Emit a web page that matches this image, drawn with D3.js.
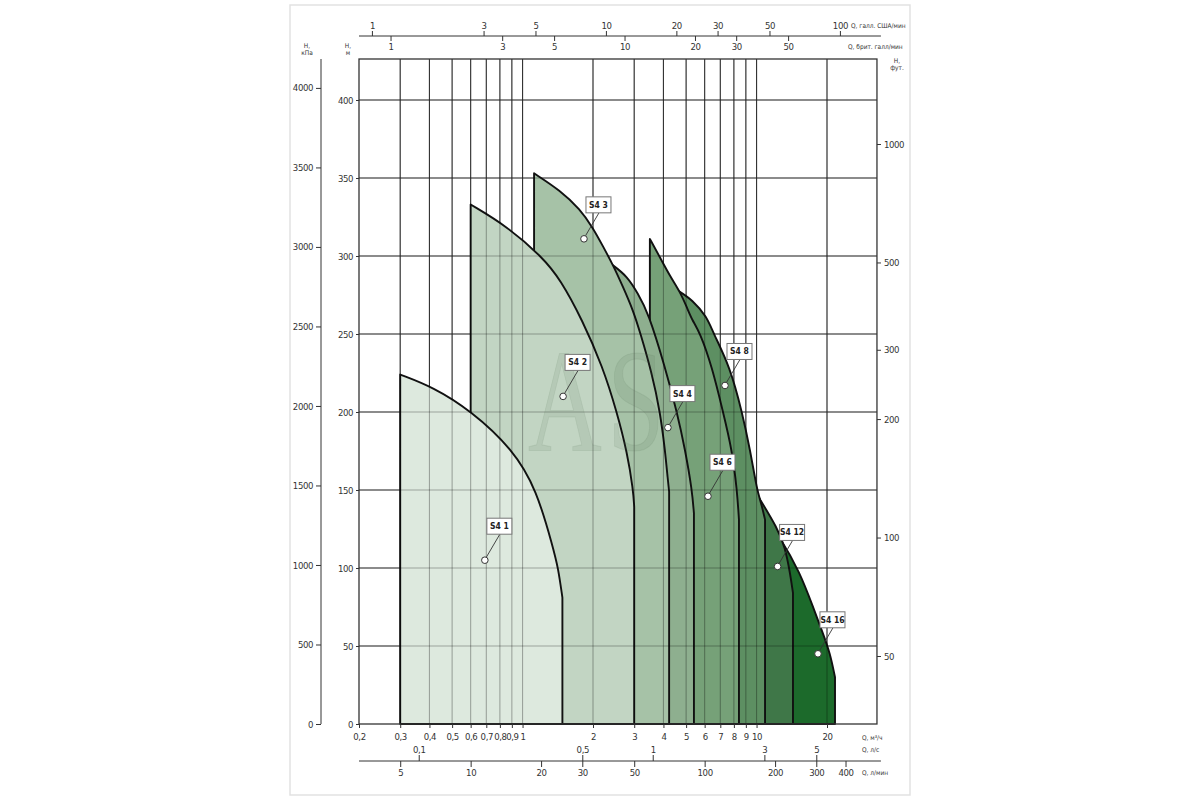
<!DOCTYPE html>
<meta charset="utf-8">
<script src="https://d3js.org/d3.v7.min.js"></script>
<style>
  body { margin: 0; background: #fff; }
  text { font-family: "Liberation Sans Narrow", "DejaVu Sans Condensed", "Liberation Sans", sans-serif; fill: #333; }
</style>
<div id="chart"></div>
<script>
  // pump series, drawn from the picture
  const pumps = ["S4 1", "S4 2", "S4 3", "S4 4", "S4 6", "S4 8", "S4 12", "S4 16"];
  const pumpColors = ["#dde9de", "#c2d5c3", "#a6c2a7", "#8eaf8f", "#76a178", "#5d8f62", "#3f7748", "#1c6a2b"];

  // Q (m3/h) and H (m) along the top of each field
  const curveQ = [
    [0.3, 0.414, 0.6, 0.91, 1.15, 1.35, 1.42, 1.48],
    [0.6, 0.86, 1.22, 1.45, 1.8, 2.2, 2.53, 2.8, 2.97, 3.0],
    [1.12, 1.45, 1.76, 2.0, 2.21, 2.44, 2.69, 2.97, 3.18, 3.57, 3.87, 4.06, 4.18, 4.23],
    [2.14, 2.44, 2.8, 3.11, 3.44, 4.06, 4.57, 4.95, 5.3, 5.4],
    [3.5, 3.87, 4.27, 4.71, 5.04, 5.3, 5.73, 6.45, 7.19, 7.85, 8.25, 8.41],
    [4.06, 4.71, 5.3, 6.14, 6.51, 7.7, 8.67, 9.38, 10.04, 10.45, 10.87],
    [6.98, 8.93, 10.34, 12.23, 13.23, 13.9, 14.31],
    [9.38, 10.87, 12.59, 15.34, 17.43, 19.23, 20.6, 21.64]
  ];
  const curveH = [
    [224, 216, 201, 176, 150, 113, 100, 81],
    [333, 319, 299, 285, 259, 229, 200, 174, 150, 139],
    [353, 342, 330, 318, 306, 294, 280, 265, 251, 225, 200, 176, 156, 149],
    [300, 294, 287, 276, 264, 229, 200, 176, 150, 135],
    [311, 299, 287, 277, 267, 259, 251, 229, 200, 176, 150, 131],
    [283, 277, 272, 261, 251, 229, 200, 176, 150, 142, 131],
    [182, 160, 144, 126, 113.5, 97, 84],
    [140, 132, 120, 97, 75, 58, 45.5, 30]
  ];

  // label markers
  const markerQ = [0.69, 1.49, 1.83, 4.18, 6.2, 7.33, 12.3, 18.3];
  const markerH = [105, 210, 311, 190, 146, 217, 101, 45];

  // tick lists
  const qTicks = [0.2, 0.3, 0.4, 0.5, 0.6, 0.7, 0.8, 0.9, 1, 2, 3, 4, 5, 6, 7, 8, 9, 10, 20];
  const gpmUsTicks = [1, 3, 5, 10, 20, 30, 50, 100];
  const gpmUkTicks = [1, 3, 5, 10, 20, 30, 50];
  const lsTicks = [0.1, 0.5, 1, 3, 5];
  const lminTicks = [5, 10, 20, 30, 50, 100, 200, 300, 400];
  const hTicks = [0, 50, 100, 150, 200, 250, 300, 350, 400];
  const kpaTicks = [0, 500, 1000, 1500, 2000, 2500, 3000, 3500, 4000];
  const ftTicks = [50, 100, 200, 300, 500, 1000];

  // unit factors: m3/h per unit
  const perGpmUs = 1 / 4.403, perGpmUk = 1 / 3.666, perLs = 3.6, perLmin = 0.06;

  const W = 1200, H = 800;
  const svg = d3.select("#chart").append("svg").attr("width", W).attr("height", H);

  const x = d3.scaleLog().domain([0.2, 20]).range([359, 827]);
  const y = d3.scaleLinear().domain([0, 400]).range([724, 100]);
  const qFrame = 32.7, qLine = 34;
  const yTop = 59;
  const x0 = x(0.2), x1 = x(qFrame), y0 = y(0);

  const fmt = d3.formatLocale({decimal: ",", thousands: "", grouping: [3], currency: ["", ""]}).format("~g");

  // paper frame
  svg.append("rect").attr("x", 290).attr("y", 5).attr("width", 620).attr("height", 790)
    .attr("fill", "none").attr("stroke", "#e2e2e2").attr("stroke-width", 1.5);

  function grid(g, color, opacity) {
    g.selectAll("line.v").data(qTicks.slice(1)).join("line").attr("class", "v")
      .attr("x1", d => x(d)).attr("x2", d => x(d)).attr("y1", yTop).attr("y2", y0);
    g.selectAll("line.h").data(hTicks.slice(1)).join("line").attr("class", "h")
      .attr("x1", x0).attr("x2", x1).attr("y1", d => y(d)).attr("y2", d => y(d));
    g.attr("stroke", color).attr("stroke-opacity", opacity).attr("stroke-width", 1.1);
  }
  grid(svg.append("g"), "#4a4a4a", 1);

  // fields, biggest pump at the bottom
  function fieldPath(qs, hs) {
    const pts = qs.map((q, i) => [x(q), y(hs[i])]);
    const top = d3.line().curve(d3.curveBasis)(pts);
    return `M${x(qs[0])},${y0}L` + top.slice(1) + `L${x(qs[qs.length - 1])},${y0}Z`;
  }
  const order = d3.range(pumps.length).reverse();
  svg.append("g").selectAll("path").data(order).join("path")
    .attr("d", i => fieldPath(curveQ[i], curveH[i]))
    .attr("fill", i => pumpColors[i])
    .attr("stroke", "#111").attr("stroke-width", 1.9).attr("stroke-linejoin", "round");

  grid(svg.append("g"), "#000", 0.3);

  // watermark
  svg.append("text").attr("transform", "translate(528,450) scale(0.7,1)")
    .style("font-family", "'Liberation Serif', 'DejaVu Serif', serif").style("font-size", "146px")
    .style("letter-spacing", "8px")
    .style("fill", "#4f6b54").style("fill-opacity", 0.11)
    .style("stroke", "#4f6b54").style("stroke-opacity", 0.11)
    .text("AS");

  // plot frame
  svg.append("rect").attr("x", x0).attr("y", yTop).attr("width", x1 - x0).attr("height", y0 - yTop)
    .attr("fill", "none").attr("stroke", "#333").attr("stroke-width", 1.3);

  // markers with labels
  const mk = svg.append("g").selectAll("g").data(pumps).join("g")
    .attr("transform", (d, i) => `translate(${x(markerQ[i])},${y(markerH[i])})`);
  mk.append("line").attr("x1", 1.5).attr("y1", -3).attr("x2", 15).attr("y2", -26)
    .attr("stroke", "#333").attr("stroke-width", 0.9);
  mk.append("rect").attr("x", 2).attr("y", -42).attr("width", 25).attr("height", 16)
    .attr("fill", "#fff").attr("stroke", "#777").attr("stroke-width", 1);
  mk.append("text").attr("x", 14.5).attr("y", -31).attr("text-anchor", "middle")
    .style("font-size", "8.5px").style("font-weight", "bold").style("fill", "#222")
    .text(d => d);
  mk.append("circle").attr("r", 3.3).attr("fill", "#fff").attr("stroke", "#333").attr("stroke-width", 1);

  // axes
  function styleAxis(g) {
    g.select(".domain").remove();
    g.selectAll(".tick line").attr("stroke", "#333");
    g.selectAll(".tick text").style("font-size", "9.5px").style("fill", "#333")
      .style("letter-spacing", "-0.4px")
      .style("font-family", "'Liberation Sans Narrow', 'DejaVu Sans Condensed', sans-serif");
  }
  function unitLabel(xp, yp, lines, anchor) {
    const t = svg.append("text").attr("x", xp).attr("y", yp).attr("text-anchor", anchor || "start")
      .style("font-size", "6.5px").style("fill", "#333");
    lines.forEach((s, k) => t.append("tspan").attr("x", xp).attr("dy", k ? 7 : 0).text(s));
  }

  // bottom Q m3/h
  svg.append("g").attr("transform", `translate(0,${y0})`)
    .call(d3.axisBottom(x).tickValues(qTicks).tickFormat(fmt).tickSize(4).tickPadding(5))
    .call(styleAxis);
  unitLabel(862, 740, ["Q, м³/ч"]);

  // bottom l/s and l/min
  const xls = d3.scaleLog().domain([0.2 / perLs, 20 / perLs]).range(x.range());
  const xlmin = d3.scaleLog().domain([0.2 / perLmin, 20 / perLmin]).range(x.range());
  const yb = 761;
  svg.append("line").attr("x1", x0).attr("x2", x(qLine)).attr("y1", yb).attr("y2", yb).attr("stroke", "#333");
  svg.append("g").attr("transform", `translate(0,${yb})`)
    .call(d3.axisTop(xls).tickValues(lsTicks).tickFormat(fmt).tickSize(6).tickPadding(2))
    .call(styleAxis);
  svg.append("g").attr("transform", `translate(0,${yb})`)
    .call(d3.axisBottom(xlmin).tickValues(lminTicks).tickFormat(fmt).tickSize(6).tickPadding(2))
    .call(styleAxis);
  unitLabel(862, 752, ["Q, л/с"]);
  unitLabel(862, 775, ["Q, л/мин"]);

  // top gallons
  const xus = d3.scaleLog().domain([0.2 / perGpmUs, 20 / perGpmUs]).range(x.range());
  const xuk = d3.scaleLog().domain([0.2 / perGpmUk, 20 / perGpmUk]).range(x.range());
  const yt = 36;
  svg.append("line").attr("x1", x0).attr("x2", x(qLine)).attr("y1", yt).attr("y2", yt).attr("stroke", "#333");
  svg.append("g").attr("transform", `translate(0,${yt})`)
    .call(d3.axisTop(xus).tickValues(gpmUsTicks).tickFormat(fmt).tickSize(5).tickPadding(2))
    .call(styleAxis);
  svg.append("g").attr("transform", `translate(0,${yt})`)
    .call(d3.axisBottom(xuk).tickValues(gpmUkTicks).tickFormat(fmt).tickSize(5).tickPadding(2))
    .call(styleAxis);
  unitLabel(851, 28, ["Q, галл. США/мин"]);
  unitLabel(848, 49, ["Q, брит. галл/мин"]);

  // left H m
  svg.append("g").attr("transform", `translate(${x0},0)`)
    .call(d3.axisLeft(y).tickValues(hTicks).tickFormat(fmt).tickSize(3).tickPadding(3))
    .call(styleAxis);
  unitLabel(348, 48, ["H,", "м"], "middle");

  // left H kPa
  const ykpa = d3.scaleLinear().domain([0, 4000]).range([y0, y(4000 / 9.81)]);
  const xk = 321;
  svg.append("line").attr("x1", xk).attr("x2", xk).attr("y1", yTop).attr("y2", y0).attr("stroke", "#333");
  svg.append("g").attr("transform", `translate(${xk},0)`)
    .call(d3.axisLeft(ykpa).tickValues(kpaTicks).tickFormat(fmt).tickSize(5).tickPadding(3))
    .call(styleAxis);
  unitLabel(307, 48, ["H,", "кПа"], "middle");

  // right H ft
  const yft = d3.scaleLog().domain([50, 1000]).range([656, 144]);
  svg.append("g").attr("transform", `translate(${x1},0)`)
    .call(d3.axisRight(yft).tickValues(ftTicks).tickFormat(fmt).tickSize(4).tickPadding(3))
    .call(styleAxis);
  unitLabel(897, 63, ["H,", "фут."], "middle");
</script>
